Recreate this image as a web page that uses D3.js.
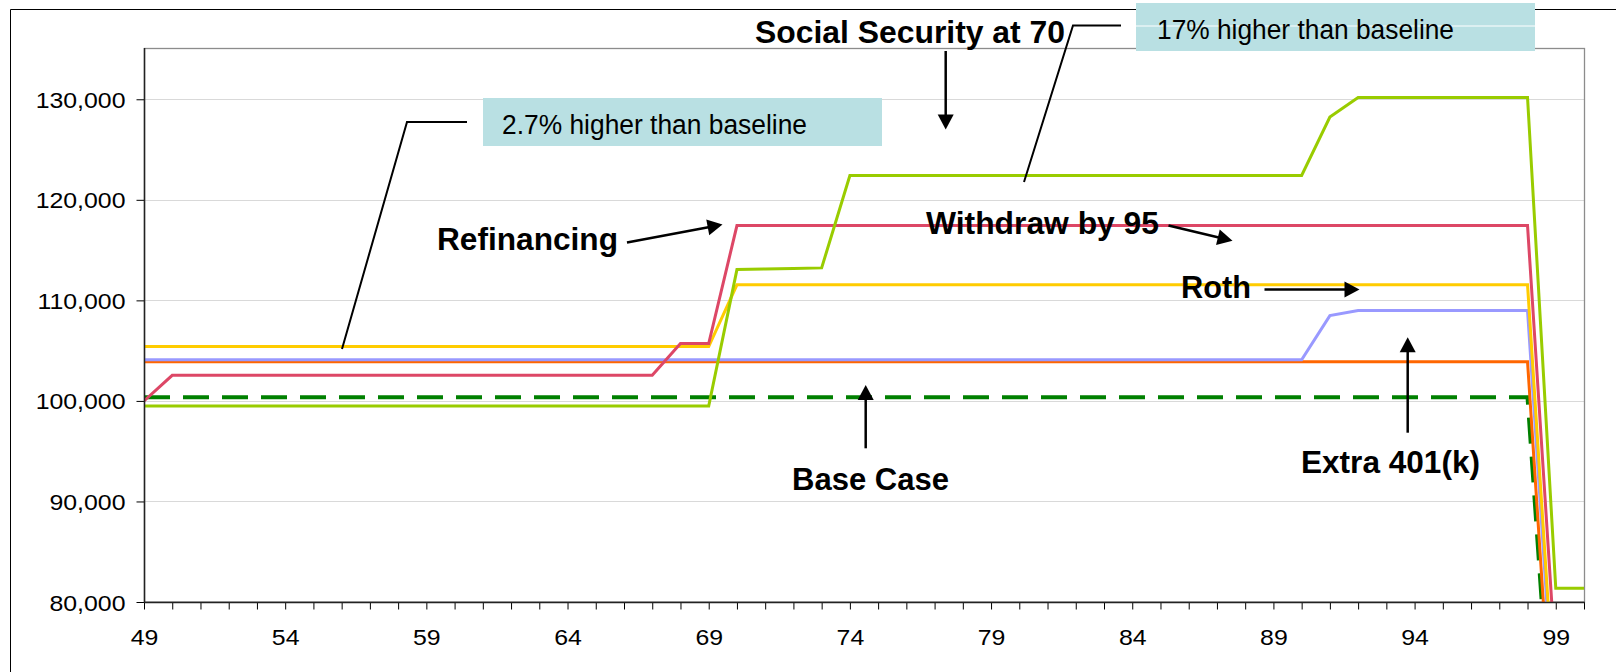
<!DOCTYPE html>
<html>
<head>
<meta charset="utf-8">
<script src="https://cdn.jsdelivr.net/npm/d3@7"></script>
<style>
  html, body { margin: 0; padding: 0; background: #fff; }
  svg { display: block; font-family: "Liberation Sans", Arial, sans-serif; }
</style>
</head>
<body>
<svg id="chart" width="1616" height="672"></svg>
<script>
// ---------------- DATA ----------------
const years = [49,50,51,52,53,54,55,56,57,58,59,60,61,62,63,64,65,66,67,68,69,70,71,72,73,74,75,76,77,78,79,80,81,82,83,84,85,86,87,88,89,90,91,92,93,94,95,96,97,98,99,100];
const xTickLabels = [49,54,59,64,69,74,79,84,89,94,99];
const yTickValues = [80000,90000,100000,110000,120000,130000];

// Base Case (dashed green)
const baseCase = [100370,100370,100370,100370,100370,100370,100370,100370,100370,100370,
  100370,100370,100370,100370,100370,100370,100370,100370,100370,100370,
  100370,100370,100370,100370,100370,100370,100370,100370,100370,100370,
  100370,100370,100370,100370,100370,100370,100370,100370,100370,100370,
  100370,100370,100370,100370,100370,100370,100370,100370,100370,100370,
  59900,null];
// Withdraw by 95 (orange)
const withdraw95 = [103900,103900,103900,103900,103900,103900,103900,103900,103900,103900,
  103900,103900,103900,103900,103900,103900,103900,103900,103900,103900,
  103900,103900,103900,103900,103900,103900,103900,103900,103900,103900,
  103900,103900,103900,103900,103900,103900,103900,103900,103900,103900,
  103900,103900,103900,103900,103900,103900,103900,103900,103900,103900,
  61200,null];
// Extra 401(k) (lavender)
const extra401k = [104100,104100,104100,104100,104100,104100,104100,104100,104100,104100,
  104100,104100,104100,104100,104100,104100,104100,104100,104100,104100,
  104100,104100,104100,104100,104100,104100,104100,104100,104100,104100,
  104100,104100,104100,104100,104100,104100,104100,104100,104100,104100,
  104100,104100,108480,108990,108990,108990,108990,108990,108990,108990,
  66400,null];
// Roth (yellow)
const roth = [105400,105400,105400,105400,105400,105400,105400,105400,105400,105400,
  105400,105400,105400,105400,105400,105400,105400,105400,105400,105400,
  105400,111550,111550,111550,111550,111550,111550,111550,111550,111550,
  111550,111550,111550,111550,111550,111550,111550,111550,111550,111550,
  111550,111550,111550,111550,111550,111550,111550,111550,111550,111550,
  68100,null];
// Refinancing (red)
const refinancing = [100000,102550,102550,102550,102550,102550,102550,102550,102550,102550,
  102550,102550,102550,102550,102550,102550,102550,102550,102550,105700,
  105700,117440,117440,117440,117440,117440,117440,117440,117440,117440,
  117440,117440,117440,117440,117440,117440,117440,117440,117440,117440,
  117440,117440,117440,117440,117440,117440,117440,117440,117440,117440,
  73750,null];
// Social Security at 70 (yellow-green)
const socialSecurity70 = [99500,99500,99500,99500,99500,99500,99500,99500,99500,99500,
  99500,99500,99500,99500,99500,99500,99500,99500,99500,99500,
  99500,113060,113120,113180,113230,122420,122420,122420,122420,122420,
  122420,122420,122420,122420,122420,122420,122420,122420,122420,122420,
  122420,122420,128230,130180,130180,130180,130180,130180,130180,130180,
  81360,81360];

const seriesList = [
  {name: "Base Case", values: baseCase, color: "#008000", width: 4, dash: "26,13"},
  {name: "Withdraw by 95", values: withdraw95, color: "#FF6600", width: 3},
  {name: "Extra 401(k)", values: extra401k, color: "#9999FF", width: 3},
  {name: "Roth", values: roth, color: "#FFCC00", width: 3},
  {name: "Refinancing", values: refinancing, color: "#DD4766", width: 3},
  {name: "Social Security at 70", values: socialSecurity70, color: "#99CC00", width: 3}
];

// ---------------- CHART ----------------
const svg = d3.select("#chart");
const L = 144, R = 1584, T = 49, B = 602;
const x = d3.scaleLinear().domain([49, 100]).range([L, R]);
const y = d3.scaleLinear().domain([80000, 135000]).range([B, T]);

// outer frame (only left & top visible)
svg.append("line").attr("x1", 10.5).attr("x2", 10.5).attr("y1", 9.5).attr("y2", 672).attr("stroke", "#000").attr("stroke-width", 1);
svg.append("line").attr("x1", 10.5).attr("x2", 1616).attr("y1", 9.5).attr("y2", 9.5).attr("stroke", "#000").attr("stroke-width", 1);

// gridlines
svg.append("g").selectAll("line")
  .data(yTickValues.filter(v => v > 80000))
  .join("line")
  .attr("x1", L).attr("x2", R)
  .attr("y1", d => Math.round(y(d)) + 0.5).attr("y2", d => Math.round(y(d)) + 0.5)
  .attr("stroke", "#D9D9D9").attr("stroke-width", 1);

// plot border
svg.append("rect").attr("x", L + 0.5).attr("y", T - 0.5).attr("width", R - L).attr("height", B - T + 0.5)
  .attr("fill", "none").attr("stroke", "#8C8C8C").attr("stroke-width", 1.3);

// clip
svg.append("clipPath").attr("id", "plotClip").append("rect")
  .attr("x", L).attr("y", T - 2).attr("width", R - L + 2).attr("height", B - T + 2);

// lines
const lineGen = d3.line()
  .defined(d => d.v !== null)
  .x(d => x(d.year))
  .y(d => y(d.v));

const gLines = svg.append("g").attr("clip-path", "url(#plotClip)");
seriesList.forEach(s => {
  const pts = years.map((yr, i) => ({year: yr, v: s.values[i]}));
  gLines.append("path")
    .attr("d", lineGen(pts))
    .attr("fill", "none")
    .attr("stroke", s.color)
    .attr("stroke-width", s.width)
    .attr("stroke-linejoin", "miter")
    .attr("stroke-dasharray", s.dash || null);
});

// axes
const yAxis = d3.axisLeft(y).tickValues(yTickValues).tickSize(8).tickSizeOuter(0).tickPadding(11)
  .tickFormat(d3.format(","));
const gy = svg.append("g").attr("transform", `translate(${L + 0.5},0)`).call(yAxis);
gy.select(".domain").remove();
gy.selectAll(".tick line").attr("stroke", "#000");
gy.selectAll(".tick text").attr("font-size", 22).attr("font-family", "Liberation Sans, Arial, sans-serif")
  .attr("fill", "#000").attr("dy", null).attr("y", 8);

const xAxis = d3.axisBottom(x).tickValues(years).tickSize(7).tickSizeOuter(0)
  .tickFormat(d => xTickLabels.includes(d) ? d : "");
const gx = svg.append("g").attr("transform", `translate(0,${B + 0.5})`).call(xAxis);
gx.select(".domain").remove();
gx.selectAll(".tick line").attr("stroke", "#000");
gx.selectAll(".tick text").attr("font-size", 22).attr("font-family", "Liberation Sans, Arial, sans-serif")
  .attr("fill", "#000").attr("dy", null).attr("y", 42);

// widen axis labels to match reference glyph widths
[gy, gx].forEach(g => g.selectAll(".tick text").each(function() {
  const t = d3.select(this);
  if (!t.text()) return;
  const w = this.getComputedTextLength();
  t.attr("textLength", w * 1.13).attr("lengthAdjust", "spacingAndGlyphs");
}));

// axis lines
svg.append("line").attr("x1", L + 0.5).attr("x2", L + 0.5).attr("y1", T - 1).attr("y2", B + 1).attr("stroke", "#222").attr("stroke-width", 1.5);
svg.append("line").attr("x1", L).attr("x2", R + 1).attr("y1", B + 0.5).attr("y2", B + 0.5).attr("stroke", "#222").attr("stroke-width", 1.5);

// ---------------- ANNOTATIONS ----------------
const ann = svg.append("g");

function arrow(x1, y1, x2, y2) {
  const dx = x2 - x1, dy = y2 - y1, len = Math.hypot(dx, dy);
  const ux = dx / len, uy = dy / len;
  const hl = 15, hw = 8;
  const bx = x2 - ux * hl, by = y2 - uy * hl;
  ann.append("line").attr("x1", x1).attr("y1", y1).attr("x2", bx + ux * 2).attr("y2", by + uy * 2)
    .attr("stroke", "#000").attr("stroke-width", 2.5);
  ann.append("polygon")
    .attr("points", [[x2, y2], [bx - uy * hw, by + ux * hw], [bx + uy * hw, by - ux * hw]].map(p => p.join(",")).join(" "))
    .attr("fill", "#000");
}

function label(txt, x0, yb, size, bold, width) {
  const t = ann.append("text").attr("x", x0).attr("y", yb).text(txt)
    .attr("font-size", size).attr("font-weight", bold ? "bold" : "normal")
    .attr("fill", "#000");
  if (width) t.attr("textLength", width).attr("lengthAdjust", "spacingAndGlyphs");
  return t;
}

// callout boxes
ann.append("rect").attr("x", 483).attr("y", 98).attr("width", 399).attr("height", 48).attr("fill", "#B9E0E3");
label("2.7% higher than baseline", 502, 134, 27, false, 305);
ann.append("polyline").attr("points", "467,122 407,122 342,349")
  .attr("fill", "none").attr("stroke", "#000").attr("stroke-width", 2);

ann.append("rect").attr("x", 1136).attr("y", 3).attr("width", 399).attr("height", 48).attr("fill", "#B9E0E3");
ann.append("line").attr("x1", 1136).attr("x2", 1535).attr("y1", 26).attr("y2", 26).attr("stroke", "#fff").attr("stroke-width", 1);
label("17% higher than baseline", 1157, 38.5, 27, false, 297);
ann.append("polyline").attr("points", "1121,25.5 1073,25.5 1024,182")
  .attr("fill", "none").attr("stroke", "#000").attr("stroke-width", 2);

// bold labels
label("Social Security at 70", 755, 43, 31, true, 310);
label("Refinancing", 437, 250, 31, true, 181);
label("Withdraw by 95", 926, 233.5, 31, true, 233);
label("Roth", 1181, 298, 31, true, 70);
label("Extra 401(k)", 1301, 472.5, 31, true, 179);
label("Base Case", 792, 489.5, 31, true, 157);

// arrows
arrow(945.7, 51, 945.7, 129.5);
arrow(627, 242.5, 722.5, 224.5);
arrow(1168.5, 225.5, 1232.5, 240.7);
arrow(1264.5, 289.5, 1359.5, 289.5);
arrow(1407.7, 432.7, 1407.7, 337.3);
arrow(865.7, 448.3, 865.7, 385);
</script>
</body>
</html>
